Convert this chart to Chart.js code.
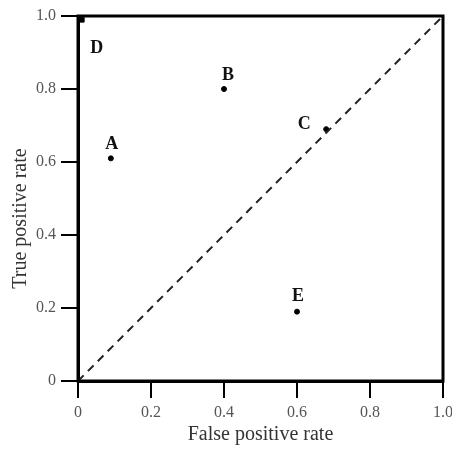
<!DOCTYPE html>
<html>
<head>
<meta charset="utf-8">
<script src="https://cdn.jsdelivr.net/npm/chart.js@4"></script>
<style>
  html, body { margin: 0; padding: 0; background: #ffffff; }
  #roc { display: block; }
</style>
</head>
<body>
<canvas id="roc" width="452" height="450"></canvas>
<script>
// data
const pointNames = ['A', 'B', 'C', 'D', 'E'];
const falsePositive = [0.09, 0.40, 0.68, 0.01, 0.60];
const truePositive = [0.61, 0.80, 0.69, 0.99, 0.19];
const diagonalRates = [0, 1];
const tickValues = [0, 0.2, 0.4, 0.6, 0.8, 1.0];
const tickLabels = ['0', '0.2', '0.4', '0.6', '0.8', '1.0'];

// where each letter sits relative to its point (px)
const labelShift = [[1, -14], [4, -14], [-22, -5], [15, 29], [1, -15]];

const serif = "'Liberation Serif', 'DejaVu Serif', serif";

const frame = {
  id: 'frame',
  afterDatasetsDraw(chart) {
    const a = chart.chartArea, ctx = chart.ctx;
    ctx.save();
    ctx.strokeStyle = '#000';
    ctx.lineWidth = 3;
    ctx.strokeRect(a.left, a.top, a.right - a.left, a.bottom - a.top);
    ctx.restore();
  }
};

const letters = {
  id: 'letters',
  afterDatasetsDraw(chart) {
    const ctx = chart.ctx, x = chart.scales.x, y = chart.scales.y;
    ctx.save();
    ctx.font = 'bold 18px ' + serif;
    ctx.fillStyle = '#111';
    ctx.textAlign = 'center';
    ctx.textBaseline = 'middle';
    pointNames.forEach((name, i) => {
      ctx.fillText(name,
        x.getPixelForValue(falsePositive[i]) + labelShift[i][0],
        y.getPixelForValue(truePositive[i]) + labelShift[i][1]);
    });
    ctx.restore();
  }
};

function axis(pos, title, size, titlePad) {
  return {
    type: 'linear',
    position: pos,
    min: 0,
    max: 1,
    afterBuildTicks: s => { s.ticks = tickValues.map(v => ({ value: v })); },
    afterFit: s => {
      if (pos === 'left') s.width = size; else s.height = size;
      s.paddingLeft = s.paddingRight = s.paddingTop = s.paddingBottom = 0;
    },
    ticks: {
      callback: (v, i) => tickLabels[i],
      font: { family: serif, size: 16 },
      color: '#555',
      padding: 5,
      maxRotation: 0,
      autoSkip: false
    },
    grid: {
      display: true,
      drawOnChartArea: false,
      drawTicks: true,
      tickLength: 17,
      color: '#000',
      lineWidth: 2
    },
    border: { display: true, color: '#000', width: 3 },
    title: {
      display: true,
      text: title,
      font: { family: serif, size: 20 },
      color: '#333',
      padding: titlePad
    }
  };
}

new Chart(document.getElementById('roc'), {
  type: 'scatter',
  data: {
    datasets: [
      {
        type: 'line',
        data: diagonalRates.map(v => ({ x: v, y: v })),
        borderColor: '#222',
        borderWidth: 2,
        borderDash: [8, 6],
        pointRadius: 0,
        fill: false
      },
      {
        data: falsePositive.map((v, i) => ({ x: v, y: truePositive[i] })),
        backgroundColor: '#000',
        borderColor: '#000',
        pointRadius: pointNames.map(n => n === 'D' ? 3.5 : 2.5),
        pointStyle: pointNames.map(n => n === 'D' ? 'rect' : 'circle'),
        clip: false
      }
    ]
  },
  options: {
    responsive: false,
    animation: false,
    devicePixelRatio: 1,
    layout: { padding: { top: 16, right: 9, left: 0, bottom: 0 } },
    plugins: {
      legend: { display: false },
      tooltip: { enabled: false }
    },
    scales: {
      x: axis('bottom', 'False positive rate', 69, { top: 0, bottom: 3 }),
      y: axis('left', 'True positive rate        ', 78, { top: 9, bottom: 0 })
    }
  },
  plugins: [frame, letters]
});
</script>
</body>
</html>
